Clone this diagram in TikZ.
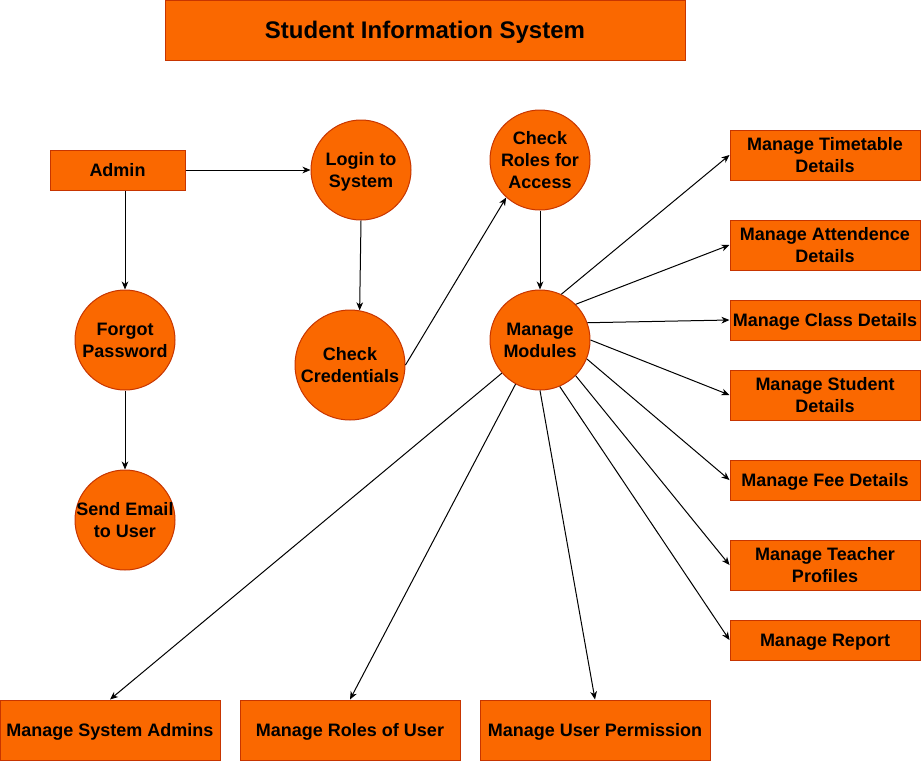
\documentclass[tikz,border=0pt]{standalone}
\usepackage{fontspec}
\setmainfont{Liberation Sans}
\usetikzlibrary{arrows.meta}
\definecolor{sisFill}{HTML}{FA6800}
\definecolor{sisLine}{HTML}{C73500}

\begin{document}
\begin{tikzpicture}[x=0.75pt, y=-0.75pt,
  font=\fontsize{13.5pt}{16.2pt}\selectfont\bfseries,
  oneline/.style={text height=9.7pt, text depth=0pt},
  twoline/.style={text height=25.9pt, text depth=0pt},
  threeline/.style={text height=42.1pt, text depth=0pt},
  boxbase/.style={rectangle, draw=sisLine, fill=sisFill, line width=0.75pt,
                  inner sep=0pt, align=center},
  titlebox/.style={boxbase, minimum width=390pt, minimum height=45pt,
                   text height=12.9pt, text depth=0pt,
                   font=\fontsize{18pt}{21.6pt}\selectfont\bfseries},
  actor/.style={boxbase, oneline, minimum width=101.25pt, minimum height=30pt},
  modS/.style={boxbase, oneline, minimum width=142.5pt, minimum height=30pt},
  modT/.style={boxbase, twoline, minimum width=142.5pt, minimum height=37.5pt},
  modB/.style={boxbase, oneline, minimum height=45pt},
  proc/.style={circle, draw=sisLine, fill=sisFill, line width=0.75pt,
               inner sep=-6pt, minimum size=75pt, align=center, twoline},
  arr/.style={-{Stealth[length=6pt, width=5pt, inset=1.8pt]}, line width=0.75pt, black},
]
  \useasboundingbox (0,0) rectangle (921,761);

  % Title
  \node[titlebox] (title) at (425,30) {Student Information System};

  % Admin side
  \node[actor] (admin) at (117.5,170) {Admin};
  \node[proc] (forgot) at (125,340) {Forgot\\Password};
  \node[proc] (sendmail) at (125,520) {Send Email\\to User};

  % Login chain
  \node[proc] (login) at (361,170) {Login to\\System};
  \node[proc, minimum size=82.5pt] (cred) at (350,365) {Check\\Credentials};
  \node[proc, threeline] (chkroles) at (540,160) {Check\\Roles for\\Access};
  \node[proc] (modules) at (540,340) {Manage\\Modules};

  % Modules on the right
  \node[modT] (timetable) at (825,155) {Manage Timetable\\Details};
  \node[modT] (attend) at (825,245) {Manage Attendence\\Details};
  \node[modS] (class) at (825,320) {Manage Class Details};
  \node[modT] (student) at (825,395) {Manage Student\\Details};
  \node[modS] (fee) at (825,480) {Manage Fee Details};
  \node[modT] (teacher) at (825,565) {Manage Teacher\\Profiles};
  \node[modS] (report) at (825,640) {Manage Report};

  % Modules at the bottom
  \node[modB, minimum width=165pt] (sysadm) at (110,730) {Manage System Admins};
  \node[modB, minimum width=165pt] (userroles) at (350,730) {Manage Roles of User};
  \node[modB, minimum width=172.5pt] (perm) at (595,730) {Manage User Permission};

  % Flow
  \draw[arr] (admin.east) -- (login.west);
  \draw[arr] (admin.south -| forgot) -- (forgot.north);
  \draw[arr] (forgot.south) -- (sendmail.north);
  \draw[arr] (login.south) -- (cred.80);
  \draw[arr] (cred.east) -- (chkroles.-132);
  \draw[arr] (chkroles.south) -- (modules.north);

  \draw[arr] (modules.65) -- (timetable.west);
  \draw[arr] (modules.45) -- (attend.west);
  \draw[arr] (modules.20) -- (class.west);
  \draw[arr] (modules.0) -- (student.west);
  \draw[arr] (modules.-22) -- (fee.west);
  \draw[arr] (modules.-45) -- (teacher.west);
  \draw[arr] (modules.-67) -- (report.west);
  \draw[arr] (modules.-90) -- (perm.north);
  \draw[arr] (modules.-119) -- (userroles.north);
  \draw[arr] (modules.-139) -- (sysadm.north);
\end{tikzpicture}
\end{document}
